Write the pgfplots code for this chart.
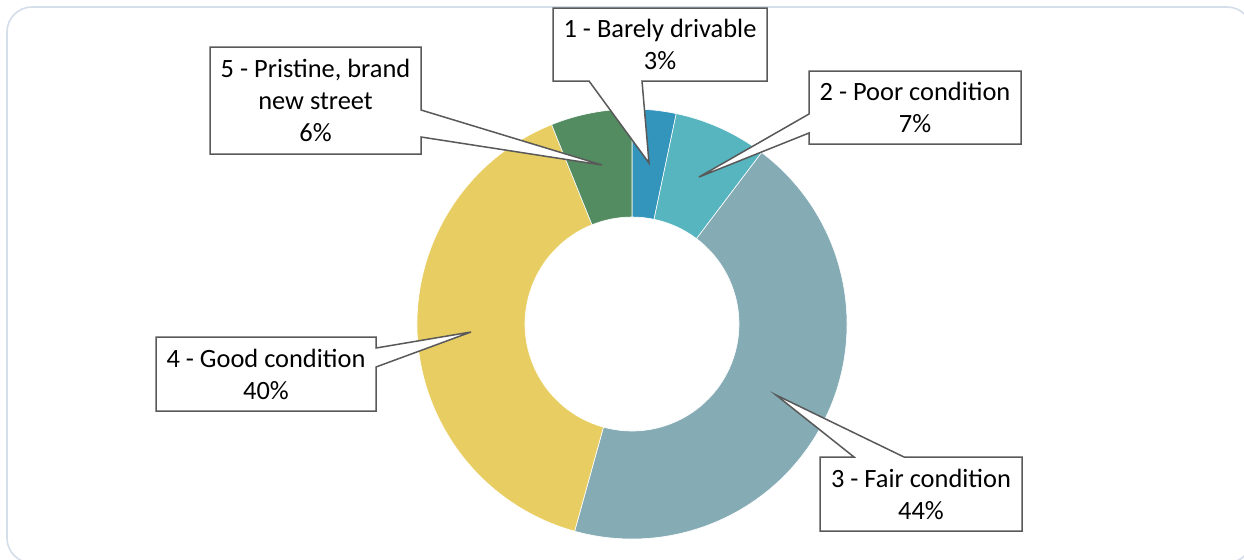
\documentclass[border=0pt]{standalone}
\usepackage{pgfplots}
\pgfplotsset{compat=1.18}
\usepackage{pgfplotstable}
\usepackage{fontspec}
\setmainfont{Carlito}
\definecolor{cA}{RGB}{51,148,188}
\definecolor{cB}{RGB}{87,181,192}
\definecolor{cC}{RGB}{133,171,181}
\definecolor{cD}{RGB}{232,206,98}
\definecolor{cE}{RGB}{84,140,98}
\definecolor{frame}{RGB}{212,221,234}
\definecolor{boxline}{RGB}{89,89,89}
\pgfplotstableread{
cat value
1 3.3
2 7.0
3 44.0
4 39.6
5 6.1
}\data
\begin{document}
\begin{tikzpicture}
\pgfplotstablegetelem{0}{value}\of\data\pgfmathsetmacro\vA{\pgfplotsretval}
\pgfplotstablegetelem{1}{value}\of\data\pgfmathsetmacro\vB{\pgfplotsretval}
\pgfplotstablegetelem{2}{value}\of\data\pgfmathsetmacro\vC{\pgfplotsretval}
\pgfplotstablegetelem{3}{value}\of\data\pgfmathsetmacro\vD{\pgfplotsretval}
\pgfplotstablegetelem{4}{value}\of\data\pgfmathsetmacro\vE{\pgfplotsretval}
\pgfmathsetmacro\aA{90}
\pgfmathsetmacro\aB{\aA-3.6*\vA}
\pgfmathsetmacro\aC{\aB-3.6*\vB}
\pgfmathsetmacro\aD{\aC-3.6*\vC}
\pgfmathsetmacro\aE{\aD-3.6*\vD}
\pgfmathsetmacro\aF{\aE-3.6*\vE}
\newcommand\sector[3]{%
  \fill[#1, draw=white, line width=0.3pt] (axis cs:632,235) ++(#2:107.5pt)
    arc[start angle=#2, end angle=#3, radius=107.5pt] -- ++(#3:-54pt)
    arc[start angle=#3, end angle=#2, radius=53.5pt] -- cycle;}
\begin{axis}[scale only axis, width=622pt, height=279.5pt,
  xmin=0, xmax=1244, ymin=0, ymax=559, hide axis, clip=false]
\path (axis cs:0,0) rectangle (axis cs:1244,559);
\draw[overlay, frame, line width=0.8pt, rounded corners=12.5pt] (axis cs:7,-4) rectangle (axis cs:1252,552);
\sector{cA}{\aA}{\aB}
\sector{cB}{\aB}{\aC}
\sector{cC}{\aC}{\aD}
\sector{cD}{\aD}{\aE}
\sector{cE}{\aE}{\aF}
\tikzset{callout/.style={fill=white, draw=boxline, line width=0.75pt, line join=miter},
  lab/.style={align=center, font=\fontsize{13.2}{16}\selectfont, text=black}}
% box 1
\draw[callout] (axis cs:553,551) -- (axis cs:767,551) -- (axis cs:767,478) -- (axis cs:642,478) -- (axis cs:649,396) -- (axis cs:589,478) -- (axis cs:553,478) -- cycle;
\node[lab] at (axis cs:660,514.5) {1 - Barely drivable\\3\%};
% box 2
\draw[callout] (axis cs:809,488) -- (axis cs:1021,488) -- (axis cs:1021,415) -- (axis cs:809,415) -- (axis cs:809,426) -- (axis cs:699,382) -- (axis cs:809,445) -- cycle;
\node[lab] at (axis cs:915,451.5) {2 - Poor condition\\7\%};
% box 3
\draw[callout] (axis cs:820,102) -- (axis cs:854,102) -- (axis cs:776,164) -- (axis cs:904,102) -- (axis cs:1022,102) -- (axis cs:1022,28) -- (axis cs:820,28) -- cycle;
\node[lab] at (axis cs:921,65) {3 - Fair condition\\44\%};
% box 4
\draw[callout] (axis cs:156,222) -- (axis cs:376,222) -- (axis cs:376,211) -- (axis cs:471,227) -- (axis cs:376,192) -- (axis cs:376,148) -- (axis cs:156,148) -- cycle;
\node[lab] at (axis cs:266,185) {4 - Good condition\\40\%};
% box 5
\draw[callout] (axis cs:210,512) -- (axis cs:421,512) -- (axis cs:421,449) -- (axis cs:602,394) -- (axis cs:421,422) -- (axis cs:421,405) -- (axis cs:210,405) -- cycle;
\node[lab] at (axis cs:315.5,458.5) {5 - Pristine, brand\\new street\\6\%};
\end{axis}
\end{tikzpicture}
\end{document}
